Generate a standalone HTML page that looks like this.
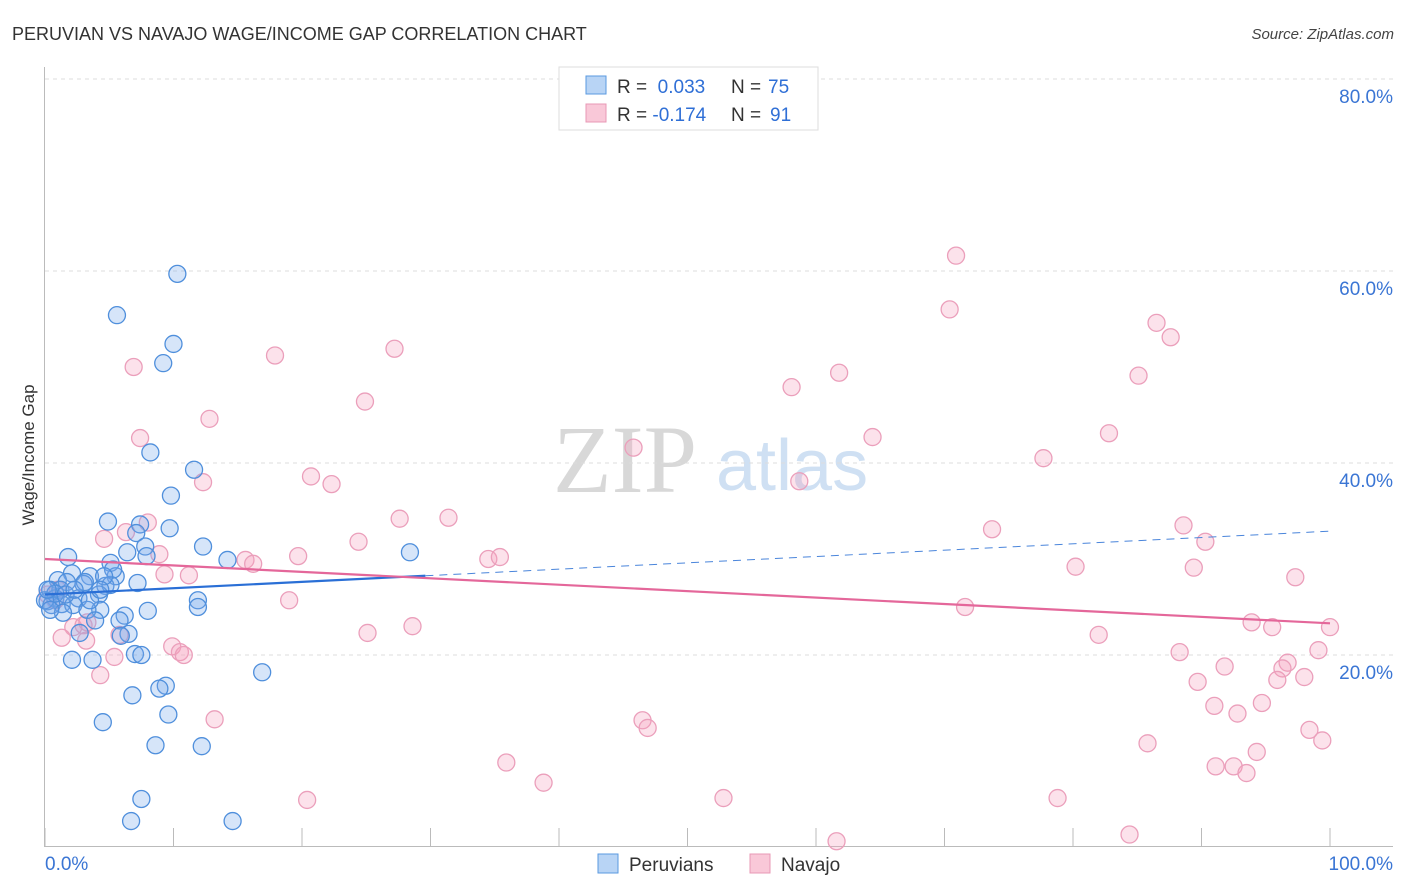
<!DOCTYPE html>
<html><head><meta charset="utf-8"><style>
body{margin:0;background:#fff;font-family:"Liberation Sans",sans-serif;}
svg{display:block}
</style></head><body>
<svg width="1406" height="892" xmlns="http://www.w3.org/2000/svg">
<text x="12" y="40" font-size="18" fill="#333">PERUVIAN VS NAVAJO WAGE/INCOME GAP CORRELATION CHART</text>
<text x="1394" y="39" font-size="15" font-style="italic" fill="#444" text-anchor="end">Source: ZipAtlas.com</text>
<g>
<text x="553" y="492" font-family="Liberation Serif" font-size="96" fill="#d8d8d8">ZIP</text>
<text x="716" y="490" font-size="72" fill="#cfe0f3">atlas</text>
</g>
<g id="grid"></g>
<g id="axes"></g>
<text transform="translate(34,455) rotate(-90)" font-size="17" fill="#333" text-anchor="middle">Wage/Income Gap</text>
<g id="pts"></g>
<g id="trends"></g>
<g>
<rect x="559" y="67" width="259" height="63" fill="#fff" stroke="#ddd"/>
<rect x="586" y="76" width="20" height="18" fill="#b8d4f5" stroke="#5a9ae0"/>
<rect x="586" y="104" width="20" height="18" fill="#f9c8d8" stroke="#e898b6"/>
<text x="617" y="93" font-size="19" fill="#333">R = <tspan fill="#2f6fd6">&#160;0.033</tspan><tspan x="731">N = </tspan><tspan fill="#2f6fd6" x="768">75</tspan></text>
<text x="617" y="121" font-size="19" fill="#333">R = <tspan fill="#2f6fd6">-0.174</tspan><tspan x="731">N = </tspan><tspan fill="#2f6fd6" x="770">91</tspan></text>
</g>
<g>
<rect x="598" y="854" width="20" height="19" fill="#b8d4f5" stroke="#5a9ae0"/>
<text x="629" y="871" font-size="19" fill="#333">Peruvians</text>
<rect x="750" y="854" width="20" height="19" fill="#f9c8d8" stroke="#e898b6"/>
<text x="781" y="871" font-size="19" fill="#333">Navajo</text>
</g>
</svg>
<script>
const yTicks=[20,40,60,80];
const yTickLabels=["20.0%","40.0%","60.0%","80.0%"];
const xTicks=[0,10,20,30,40,50,60,70,80,90,100];
const blueX=[10.3,5.6,10.0,9.2,8.2,11.6,9.8,4.9,7.4,9.7,7.1,12.3,7.8,1.8,6.4,7.9,28.4,14.2,5.1,2.1,5.5,3.5,1.0,1.7,7.2,3.0,4.7,5.1,0.4,1.2,4.2,2.6,0.8,11.9,0.2,1.3,2.2,0.5,4.3,3.3,8.0,11.9,1.4,6.2,3.9,5.8,2.7,6.5,5.9,2.1,3.7,7.0,7.5,16.9,9.4,8.9,6.8,9.6,4.5,8.6,12.2,7.5,6.7,14.6,0.8,0,0.2,1.6,3.1,5.3,3.5,2.3,4.6,0.4,4.3];
const blueY=[59.7,55.4,52.4,50.4,41.1,39.3,36.6,33.9,33.6,33.2,32.7,31.3,31.3,30.2,30.7,30.3,30.7,29.9,29.6,28.5,28.2,28.2,27.8,27.6,27.5,27.4,27.2,27.3,26.8,26.8,26.3,25.9,25.9,25.7,25.6,25.3,25.2,25.2,24.7,24.7,24.6,25.0,24.4,24.1,23.6,23.6,22.3,22.2,22.0,19.5,19.5,20.1,20.0,18.2,16.8,16.5,15.8,13.8,13.0,10.6,10.5,5.0,2.7,2.7,26.4,25.7,26.8,26.3,27.6,28.9,25.7,26.8,28.2,24.7,26.8];
const pinkX=[70.9,70.4,86.5,87.6,17.9,27.2,6.9,61.8,85.1,58.1,24.9,12.8,7.4,64.4,82.8,45.8,77.7,20.7,12.3,22.3,58.7,31.4,27.6,8.0,88.6,6.3,4.6,73.7,24.4,90.3,19.7,8.9,15.6,16.2,34.5,35.4,9.3,11.2,80.2,89.4,97.3,19.0,71.6,93.9,95.5,100,28.6,25.1,2.2,3.0,3.3,82.0,1.3,3.2,5.8,9.9,10.5,10.8,88.3,99.1,5.4,91.8,96.7,96.3,4.3,95.9,89.7,98.0,91.0,94.7,92.8,13.2,46.5,46.9,98.4,85.8,99.4,94.3,35.9,91.1,92.5,93.5,38.8,20.4,52.8,78.8,61.6,84.4,0.8,0.2,1.0];
const pinkY=[61.6,56.0,54.6,53.1,51.2,51.9,50.0,49.4,49.1,47.9,46.4,44.6,42.6,42.7,43.1,41.6,40.5,38.6,38.0,37.8,38.1,34.3,34.2,33.8,33.5,32.8,32.1,33.1,31.8,31.8,30.3,30.5,29.9,29.5,30.0,30.2,28.4,28.3,29.2,29.1,28.1,25.7,25.0,23.4,22.9,22.9,23.0,22.3,22.9,23.1,23.4,22.1,21.8,21.5,22.1,20.9,20.3,20.0,20.3,20.5,19.8,18.8,19.2,18.6,17.9,17.4,17.2,17.7,14.7,15.0,13.9,13.3,13.2,12.4,12.2,10.8,11.1,9.9,8.8,8.4,8.4,7.7,6.7,4.9,5.1,5.1,0.6,1.3,25.7,26.3,26.8];
const blueTrend=[26.3,32.9];
const blueSolidEnd=29.6;
const pinkTrend=[30.0,23.3];
const NS="http://www.w3.org/2000/svg";
const sx=v=>45+v*12.85, sy=v=>847-v*9.6;
function mk(tag,attrs,parent){const e=document.createElementNS(NS,tag);for(const k in attrs)e.setAttribute(k,attrs[k]);parent.appendChild(e);return e;}
const grid=document.getElementById('grid'),axes=document.getElementById('axes');
yTicks.forEach((t,i)=>{
 const l=mk('line',{x1:45,x2:1393,y1:sy(t),y2:sy(t),stroke:'#ddd','stroke-dasharray':'4,4'},grid);
 
 
 const tx=mk('text',{x:1393,y:sy(t)+24,'font-size':19,fill:'#3a75d4','text-anchor':'end'},axes);
 tx.textContent=yTickLabels[i];
 
 
});
const al=mk('line',{x1:45,x2:1393,y1:846.5,y2:846.5,stroke:'#bbb'},axes);


const yl=mk('line',{x1:44.5,x2:44.5,y1:67,y2:847,stroke:'#bbb'},axes);


xTicks.forEach(t=>{
 const l=mk('line',{x1:sx(t),x2:sx(t),y1:828,y2:847,stroke:'#bbb'},axes);
 
 
});
const x0=mk('text',{x:45,y:870,'font-size':19,fill:'#3a75d4'},axes);x0.textContent='0.0%';


const x1=mk('text',{x:1393,y:870,'font-size':19,fill:'#3a75d4','text-anchor':'end'},axes);x1.textContent='100.0%';


const pts=document.getElementById('pts');
pinkX.forEach((x,i)=>{
 const c=mk('circle',{cx:sx(x),cy:sy(pinkY[i]),r:8.5,fill:'rgba(244,160,190,0.3)',stroke:'#eb9fbb','stroke-width':1.3},pts);
 
 
});
blueX.forEach((x,i)=>{
 const c=mk('circle',{cx:sx(x),cy:sy(blueY[i]),r:8.5,fill:'rgba(120,170,235,0.3)',stroke:'#4f8fdc','stroke-width':1.3},pts);
 
 
});
const tr=document.getElementById('trends');
const bAt=v=>blueTrend[0]+(blueTrend[1]-blueTrend[0])*v/100;
const b1=mk('line',{x1:sx(0),y1:sy(bAt(0)),x2:sx(blueSolidEnd),y2:sy(bAt(blueSolidEnd)),stroke:'#2a6fd6','stroke-width':2.2},tr);


const b2=mk('line',{x1:sx(blueSolidEnd),y1:sy(bAt(blueSolidEnd)),x2:sx(100),y2:sy(bAt(100)),stroke:'#4a85db','stroke-width':1,'stroke-dasharray':'8,6'},tr);


const p1=mk('line',{x1:sx(0),y1:sy(pinkTrend[0]),x2:sx(100),y2:sy(pinkTrend[1]),stroke:'#e4679a','stroke-width':2.2},tr);


</script>
</body></html>
